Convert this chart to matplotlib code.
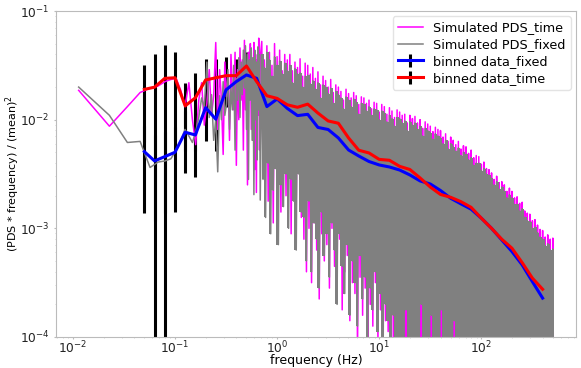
import numpy as np
import matplotlib
matplotlib.use("Agg")
import matplotlib.pyplot as plt

# ---------------- data ----------------
DF = 0.0114  # frequency resolution of the periodogram (Hz)

# resolved low-frequency periodogram points, n = 1..60 (log10 of PDS*f/mean^2)
time_low_log = [-1.73, -2.06, -1.88, -1.75, -1.71, -1.69, -1.65, -1.63, -1.62, -1.73,
                -1.88, -1.66, -2.00, -2.23, -1.82, -1.66, -2.05, -1.85, -1.54, -1.96,
                -1.78, -1.29, -2.09, -1.54, -1.82, -2.32, -1.47, -1.79, -1.59, -2.19,
                -1.40, -1.75, -1.91, -1.38, -2.42, -1.54, -2.00, -1.34, -1.82, -1.45,
                -2.28, -1.27, -1.91, -1.51, -2.60, -1.38, -1.77, -1.30, -2.09, -1.45,
                -1.86, -1.29, -2.46, -1.40, -2.67, -1.45, -1.96, -1.25, -2.28, -1.43]
fixed_low_log = [-1.70, -1.96, -2.21, -2.20, -2.44, -2.39, -2.38, -2.36, -2.28, -2.19,
                 -2.09, -2.15, -2.21, -2.11, -1.98, -1.80, -1.89, -1.47, -1.98, -1.77,
                 -2.19, -2.00, -2.48, -1.78, -2.00, -1.65, -1.96, -1.86, -1.54, -2.09,
                 -1.71, -1.91, -1.50, -2.28, -1.62, -1.82, -1.43, -1.98, -1.47, -1.77,
                 -1.36, -1.71, -1.32, -2.09, -1.40, -2.55, -1.45, -1.82, -1.34, -2.19,
                 -1.43, -2.69, -1.36, -2.00, -1.47, -2.37, -1.33, -1.91, -1.40, -2.74]

# dense part (f > 0.7 Hz): per log-frequency column, highest and lowest value (log10)
DENSE_LOGF0 = -0.15
DENSE_DLOGF = 0.025
fixed_hi = [-1.40, -1.52, -1.38, -1.45, -1.60, -1.42, -1.50, -1.46, -1.58, -1.48,
            -1.55, -1.50, -1.66, -1.53, -1.58, -1.57, -1.70, -1.60, -1.59, -1.67,
            -1.64, -1.72, -1.66, -1.80, -1.68, -1.70, -1.76, -1.71, -1.85, -1.74,
            -1.77, -1.80, -1.90, -1.79, -1.82, -1.88, -1.81, -1.84, -1.95, -1.85,
            -1.86, -1.92, -1.88, -1.96, -1.90, -1.91, -2.00, -1.92, -1.94, -2.02,
            -1.96, -1.99, -2.06, -1.98, -1.99, -2.03, -2.01, -2.10, -2.02, -2.05,
            -2.03, -2.09, -2.06, -2.15, -2.08, -2.10, -2.12, -2.18, -2.13, -2.15,
            -2.17, -2.22, -2.19, -2.27, -2.22, -2.25, -2.29, -2.26, -2.33, -2.30,
            -2.32, -2.37, -2.35, -2.42, -2.40, -2.40, -2.47, -2.45, -2.50, -2.51,
            -2.54, -2.60, -2.57, -2.64, -2.62, -2.66, -2.72, -2.69, -2.72, -2.78,
            -2.78, -2.84, -2.82, -2.90, -2.93, -2.94, -3.00, -2.99, -3.04, -3.08,
            -3.10, -3.16, -3.14, -3.20, -3.19]
fixed_lo = [-2.55, -2.90, -2.40, -3.05, -2.65, -2.45, -3.15, -2.60, -2.80, -2.50,
            -3.00, -2.55, -2.75, -3.20, -2.50, -2.85, -2.90, -3.30, -2.75, -3.40,
            -2.95, -3.10, -3.55, -2.85, -3.25, -3.05, -3.45, -2.95, -3.20, -3.70,
            -3.05, -3.35, -3.60, -3.15, -3.80, -3.30, -3.50, -3.90, -3.25, -3.65,
            -3.45, -4.10, -3.55, -3.75, -3.40, -3.95, -3.60, -4.20, -3.70, -3.85,
            -4.40, -3.80, -5.5, -6.0, -5.2, -6.0, -3.75, -5.8, -6.0, -5.4,
            -6.0, -5.6, -3.70, -6.0, -5.3, -6.0, -3.80, -5.7, -6.0, -5.5,
            -3.75, -6.0, -5.4, -6.0, -5.8, -3.85, -6.0, -5.5, -6.0, -5.2,
            -6.0, -5.7, -6.0, -5.4, -6.0, -5.6, -6.0, -5.3, -6.0, -5.8,
            -6.0, -5.5, -6.0, -5.7, -6.0, -5.2, -6.0, -5.6, -6.0, -5.4,
            -6.0, -5.8, -6.0, -5.5, -6.0, -5.3, -6.0, -5.7, -6.0, -5.6,
            -6.0, -5.4, -6.0, -5.5, -6.0]
time_hi = [-1.28, -1.45, -1.32, -1.38, -1.50, -1.30, -1.42, -1.36, -1.55, -1.40,
           -1.45, -1.40, -1.55, -1.47, -1.52, -1.44, -1.60, -1.48, -1.50, -1.58,
           -1.52, -1.62, -1.56, -1.68, -1.60, -1.64, -1.70, -1.63, -1.75, -1.68,
           -1.70, -1.74, -1.82, -1.72, -1.76, -1.80, -1.75, -1.78, -1.86, -1.79,
           -1.80, -1.85, -1.82, -1.90, -1.84, -1.85, -1.93, -1.86, -1.88, -1.95,
           -1.89, -1.92, -1.98, -1.91, -1.93, -1.96, -1.95, -2.03, -1.96, -1.99,
           -1.97, -2.03, -2.00, -2.08, -2.02, -2.04, -2.06, -2.11, -2.07, -2.09,
           -2.10, -2.16, -2.13, -2.20, -2.16, -2.19, -2.23, -2.20, -2.27, -2.24,
           -2.25, -2.31, -2.28, -2.35, -2.33, -2.34, -2.41, -2.39, -2.45, -2.46,
           -2.49, -2.55, -2.52, -2.58, -2.57, -2.60, -2.66, -2.63, -2.66, -2.72,
           -2.71, -2.77, -2.76, -2.84, -2.86, -2.87, -2.93, -2.92, -2.97, -3.01,
           -3.02, -3.08, -3.06, -3.10, -3.09]
time_lo = [-2.50, -2.20, -2.75, -2.40, -2.95, -2.30, -2.60, -2.85, -2.35, -2.70,
           -2.45, -3.05, -2.55, -2.80, -2.40, -2.90, -3.10, -3.40, -3.00, -3.50,
           -2.95, -3.20, -3.65, -3.05, -3.30, -3.15, -3.55, -3.00, -3.35, -3.45,
           -3.10, -3.75, -3.40, -3.25, -3.85, -3.50, -3.60, -4.20, -3.45, -3.80,
           -3.55, -4.30, -3.70, -3.90, -3.50, -4.10, -3.75, -4.40, -3.85, -3.95,
           -4.50, -4.00, -5.6, -6.0, -5.3, -6.0, -5.5, -6.0, -5.8, -6.0,
           -5.4, -6.0, -5.7, -6.0, -5.2, -6.0, -5.6, -6.0, -5.5, -6.0,
           -5.8, -6.0, -5.3, -6.0, -5.7, -6.0, -5.4, -6.0, -5.6, -6.0,
           -5.5, -6.0, -5.8, -6.0, -5.2, -6.0, -5.7, -6.0, -5.4, -6.0,
           -5.6, -6.0, -5.3, -6.0, -5.5, -6.0, -5.8, -6.0, -5.4, -6.0,
           -5.7, -6.0, -5.5, -6.0, -5.2, -6.0, -5.6, -6.0, -5.4, -6.0,
           -5.8, -6.0, -5.5, -6.0, -5.7]

# binned data (log-spaced bins)
bin_logf = [-1.3, -1.2, -1.1, -1.0, -0.9, -0.8, -0.7, -0.6, -0.5, -0.4,
            -0.3, -0.2, -0.1, 0.0, 0.1, 0.2, 0.3, 0.4, 0.5, 0.6,
            0.7, 0.8, 0.9, 1.0, 1.1, 1.2, 1.3, 1.4, 1.5, 1.6,
            1.7, 1.8, 1.9, 2.0, 2.1, 2.2, 2.3, 2.4, 2.5, 2.6]
binned_time = [0.0190, 0.0199, 0.0240, 0.0243, 0.0134, 0.0159, 0.0232, 0.0243, 0.0254, 0.0254,
               0.0312, 0.0224, 0.0166, 0.0157, 0.0137, 0.0130, 0.0139, 0.0115, 0.00973, 0.00927,
               0.00679, 0.00523, 0.00494, 0.00431, 0.00423, 0.00372, 0.00348, 0.00291, 0.00240, 0.00205,
               0.00193, 0.00176, 0.00156, 0.00124, 0.00100, 0.000794, 0.000656, 0.000483, 0.000348, 0.000275]
binned_time_err = [0.0128, 0.0201, 0.0245, 0.0179, 0.0083, 0.0108, 0.0128, 0.0120, 0.0124, 0.0107,
                   0.0108, 0.0074, 0.0050, 0.0042, 0.0034, 0.0029, 0.0028, 0.0021, 0.0016, 0.0013,
                   0.00088, 0.00058, 0.00049, 0.00039, 0.00034, 0.00026, 0.00023, 0.00017, 0.00012, 0.000094,
                   0.000079, 0.000063, 0.000050, 0.000036, 0.000026, 0.000018, 0.000014, 0.0000092, 0.0000059, 0.0000041]
binned_fixed = [0.00508, 0.00417, 0.00457, 0.00501, 0.00766, 0.00723, 0.0129, 0.0101, 0.0188, 0.0224,
                0.0258, 0.0240, 0.0132, 0.0155, 0.0127, 0.0109, 0.0112, 0.00848, 0.00812, 0.00679,
                0.00526, 0.00463, 0.00412, 0.00383, 0.00367, 0.00344, 0.00310, 0.00273, 0.00256, 0.00223,
                0.00189, 0.00168, 0.00150, 0.00124, 0.00100, 0.000782, 0.000611, 0.000461, 0.000323, 0.000228]
binned_fixed_err = [0.0037, 0.0030, 0.0032, 0.0036, 0.00445, 0.00428, 0.0066, 0.0050, 0.0055, 0.0070,
                    0.0050, 0.0070, 0.0035, 0.0038, 0.0030, 0.0024, 0.0022, 0.0015, 0.0013, 0.00095,
                    0.00068, 0.00051, 0.00041, 0.00034, 0.00029, 0.00024, 0.00020, 0.00016, 0.00013, 0.00010,
                    0.000077, 0.000060, 0.000048, 0.000036, 0.000026, 0.000018, 0.000013, 0.0000088, 0.0000055, 0.0000034]

# ---------------- build series ----------------
n_low = np.arange(1, len(time_low_log) + 1)
f_low = n_low * DF
col_logf = DENSE_LOGF0 + DENSE_DLOGF * np.arange(len(fixed_hi))


def zigzag(hi, lo):
    lf = np.empty(2 * len(hi))
    lv = np.empty(2 * len(hi))
    lf[0::2] = col_logf
    lf[1::2] = col_logf + DENSE_DLOGF / 2
    lv[0::2] = hi
    lv[1::2] = lo
    return 10 ** lf, 10 ** lv


zf_t, zv_t = zigzag(time_hi, time_lo)
zf_f, zv_f = zigzag(fixed_hi, fixed_lo)
f_time = np.concatenate([f_low, zf_t])
p_time = np.concatenate([10 ** np.array(time_low_log), zv_t])
f_fixed = np.concatenate([f_low, zf_f])
p_fixed = np.concatenate([10 ** np.array(fixed_low_log), zv_f])
bin_freq = 10 ** np.array(bin_logf)
col_f = 10 ** (col_logf + DENSE_DLOGF / 4)

# ---------------- plot ----------------
fig = plt.figure(figsize=(5.81, 3.68), dpi=100)
ax = fig.add_axes([56 / 581, 1 - 337 / 368, 520 / 581, 326 / 368])
ax.set_xscale('log')
ax.set_yscale('log')

ax.plot(f_time, p_time, color='#ff00ff', lw=1.1, label='Simulated PDS_time', zorder=2)
ax.fill_between(col_f, 10 ** np.array(fixed_lo), 10 ** np.array(fixed_hi), step='mid',
                color='#808080', lw=0, zorder=2.05)
ax.plot(f_fixed, p_fixed, color='#808080', lw=1.1, label='Simulated PDS_fixed', zorder=2.1)
eb_b = ax.errorbar(bin_freq, binned_fixed, yerr=binned_fixed_err, color='#0000ff', ecolor='black',
                   elinewidth=2.2, lw=2.2, label='binned data_fixed', zorder=3)
eb_r = ax.errorbar(bin_freq, binned_time, yerr=binned_time_err, color='#ff0000', ecolor='black',
                   elinewidth=2.2, lw=2.2, label='binned data_time', zorder=3.2)
for eb in (eb_b, eb_r):
    for coll in eb.lines[2]:
        coll.set_zorder(1.5)

ax.set_xlim(10 ** -2.165, 10 ** 2.927)
ax.set_ylim(1e-4, 1e-1)

for sp in ax.spines.values():
    sp.set_color('#bbbbbb')
ax.tick_params(axis='both', which='major', length=1.5, pad=0.3, colors='#bbbbbb',
               labelcolor='#222222', labelsize=8.8)
ax.tick_params(axis='y', which='major', pad=3)
ax.tick_params(axis='both', which='minor', length=1.0, colors='#cccccc')

ax.set_xlabel('frequency (Hz)', fontsize=9)
ax.xaxis.set_label_coords(0.5, -0.053)
ax.xaxis.label.set_va('top')
ax.set_ylabel('(PDS * frequency) / (mean)$^2$', fontsize=8)
ax.yaxis.set_label_coords(-0.066, 0.5)

leg = ax.legend(loc='upper right', fontsize=9.2, framealpha=0.8, edgecolor='#dddddd',
                labelspacing=0.3, borderaxespad=0.4)

fig.savefig('out.png', dpi=100)
